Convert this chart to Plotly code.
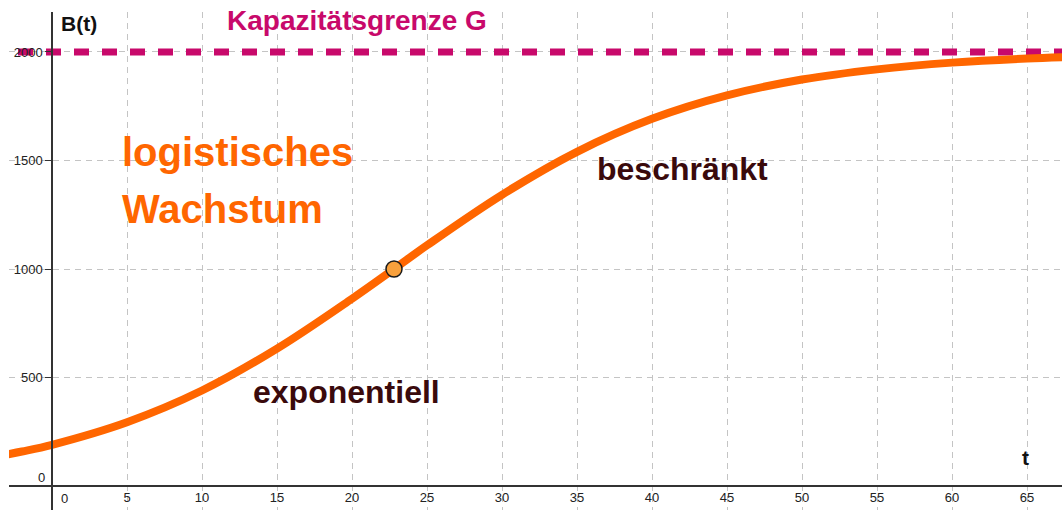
import plotly.graph_objects as go

# Values
t_values = [-4, -2, 0, 5, 10, 15, 20, 22.8, 25, 30, 35, 40, 45, 50, 55, 60, 65, 70]
B_values = [132, 159, 190, 294, 440, 633, 863, 1000, 1109, 1342, 1540, 1692, 1800, 1873, 1920, 1951, 1970, 1981]
capacity_G = 2000
inflection_t = [22.8]
inflection_B = [1000]
x_ticks = [5, 10, 15, 20, 25, 30, 35, 40, 45, 50, 55, 60, 65]
y_ticks = [500, 1000, 1500, 2000]
x_range = [-2.867, 67.333]
y_range = [-110.6, 2184.3]

ORANGE = "#FF6600"
MAGENTA = "#C8096B"
BROWN = "#3A0A0C"
FONT = "Liberation Sans, Arial, sans-serif"

fig = go.Figure()

fig.add_trace(go.Scatter(
    x=[x_range[0] - 5, x_range[1] + 5], y=[capacity_G, capacity_G],
    mode="lines", line=dict(color=MAGENTA, width=7, dash="15px,13px"),
    hoverinfo="skip", showlegend=False))

fig.add_trace(go.Scatter(
    x=t_values, y=B_values, mode="lines",
    line=dict(color=ORANGE, width=8, shape="spline", smoothing=1.0),
    showlegend=False))

fig.add_trace(go.Scatter(
    x=inflection_t, y=inflection_B, mode="markers",
    marker=dict(size=16, color="#F8A03C", line=dict(color="#1a1a1a", width=1.5)),
    showlegend=False))

xpos = (0 - y_range[0]) / (y_range[1] - y_range[0])
ypos = (0 - x_range[0]) / (x_range[1] - x_range[0])

fig.update_layout(
    width=1062, height=510,
    margin=dict(l=9, r=0, t=12, b=0),
    paper_bgcolor="white", plot_bgcolor="white",
    font=dict(family=FONT, size=13, color="#222222"),
    xaxis=dict(range=x_range, anchor="free", position=xpos,
               tickvals=x_ticks, ticks="", showline=True, linecolor="#333333", linewidth=1.5,
               showgrid=True, gridcolor="#C4C4C4", griddash="6px,5px", gridwidth=1,
               zeroline=False, tickfont=dict(size=13, color="#222222"),
               ticklabelstandoff=0),
    yaxis=dict(range=y_range, anchor="free", position=ypos,
               tickvals=y_ticks, ticks="outside", ticklen=6, tickcolor="#333333",
               showline=True, linecolor="#333333", linewidth=1.5,
               showgrid=True, gridcolor="#C4C4C4", griddash="6px,5px", gridwidth=1,
               zeroline=False, tickfont=dict(size=13, color="#222222")),
)

def px_x(p):
    return (p - 52) / 15.0

def px_y(p):
    return (486 - p) / 0.217

annots = [
    dict(text="<b>logistisches</b>", x=px_x(120), y=px_y(152), size=40, color=ORANGE),
    dict(text="<b>Wachstum</b>", x=px_x(120), y=px_y(209), size=40, color=ORANGE),
    dict(text="<b>beschränkt</b>", x=px_x(595), y=px_y(169), size=32, color=BROWN),
    dict(text="<b>exponentiell</b>", x=px_x(251), y=px_y(392), size=32, color=BROWN),
    dict(text="<b>Kapazitätsgrenze G</b>", x=px_x(225), y=px_y(21), size=28, color=MAGENTA),
    dict(text="<b>B(t)</b>", x=px_x(59), y=px_y(24), size=21, color="#111111"),
]
for a in annots:
    fig.add_annotation(text=a["text"], x=a["x"], y=a["y"], xref="x", yref="y",
                       xanchor="left", yanchor="middle", showarrow=False,
                       font=dict(family=FONT, size=a["size"], color=a["color"]))

fig.add_annotation(text="<b>t</b>", x=px_x(1025), y=px_y(457), xref="x", yref="y",
                   xanchor="center", yanchor="middle", showarrow=False,
                   font=dict(family=FONT, size=21, color="#111111"))
fig.add_annotation(text="0", x=px_x(41), y=px_y(477), xref="x", yref="y",
                   xanchor="center", yanchor="middle", showarrow=False,
                   font=dict(family=FONT, size=13, color="#222222"))
fig.add_annotation(text="0", x=px_x(64), y=px_y(498), xref="x", yref="y",
                   xanchor="center", yanchor="middle", showarrow=False,
                   font=dict(family=FONT, size=13, color="#222222"))

# remove the default 8px page margin so the figure fills the window exactly
fig.write_html("out.html", config={"displayModeBar": False},
               post_script="document.body.style.margin='0';document.body.style.overflow='hidden';")
